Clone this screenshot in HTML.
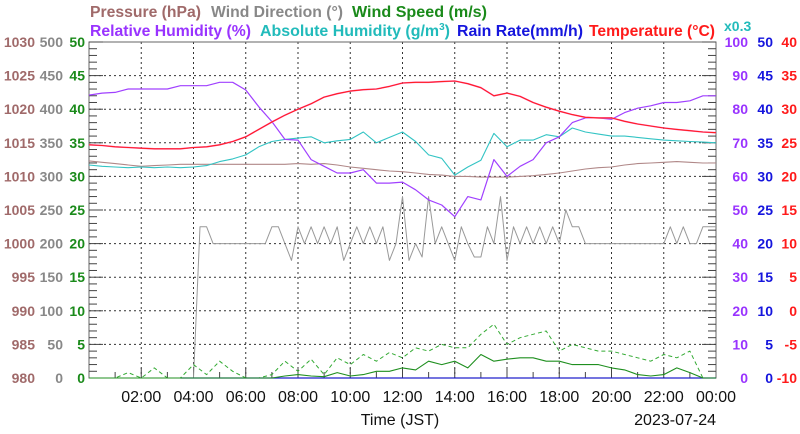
<!DOCTYPE html>
<html><head><meta charset="utf-8"><style>
html,body{margin:0;padding:0;background:#fff;}
svg{display:block;font-family:"Liberation Sans",sans-serif;}
</style></head><body>
<svg id="chart" width="800" height="434" viewBox="0 0 800 434" xmlns="http://www.w3.org/2000/svg">
<g font-size="16" font-weight="bold">
<text x="90" y="17" fill="#a06a6a" textLength="111" lengthAdjust="spacingAndGlyphs">Pressure (hPa)</text>
<text x="211" y="17" fill="#888" textLength="132" lengthAdjust="spacingAndGlyphs">Wind Direction (°)</text>
<text x="352" y="17" fill="#1a8a1a" textLength="135" lengthAdjust="spacingAndGlyphs">Wind Speed (m/s)</text>
</g>
<g font-size="16" font-weight="bold">
<text x="90" y="36" fill="#9933ff" textLength="161" lengthAdjust="spacingAndGlyphs">Relative Humidity (%)</text>
<text x="260" y="36" fill="#22bbbb" textLength="190" lengthAdjust="spacingAndGlyphs">Absolute Humidity (g/m<tspan dy="-6" font-size="10">3</tspan><tspan dy="6">)</tspan></text>
<text x="457" y="36" fill="#1515dd" textLength="126" lengthAdjust="spacingAndGlyphs">Rain Rate(mm/h)</text>
<text x="589" y="36" fill="#ff1a1a" textLength="126" lengthAdjust="spacingAndGlyphs">Temperature (°C)</text>
<text x="724" y="31" fill="#22bbbb" font-size="14">x0.3</text>
</g>
<g id="grid"></g>
<g id="axes"></g>
<g id="series"></g>
<text x="400" y="425" font-size="16" text-anchor="middle" fill="#111">Time (JST)</text>
<text x="716" y="425" font-size="16" text-anchor="end" fill="#111">2023-07-24</text>
</svg>
<script>
const xTickLabels = ["02:00","04:00","06:00","08:00","10:00","12:00","14:00","16:00","18:00","20:00","22:00","00:00"];
const pressureTicks = ["980","985","990","995","1000","1005","1010","1015","1020","1025","1030"];
const windDirTicks = ["0","50","100","150","200","250","300","350","400","450","500"];
const windSpeedTicks = ["0","5","10","15","20","25","30","35","40","45","50"];
const rhTicks = ["0","10","20","30","40","50","60","70","80","90","100"];
const rainTicks = ["0","5","10","15","20","25","30","35","40","45","50"];
const tempTicks = ["-10","-5","0","5","10","15","20","25","30","35","40"];

const temperature = [24.7,24.6,24.4,24.3,24.2,24.1,24.1,24.1,24.3,24.4,24.7,25.2,25.9,27,28.1,29.1,30,30.8,31.8,32.3,32.7,32.9,33,33.4,33.9,34,34,34.1,34.2,33.8,33.2,32,32.4,31.9,31,30.3,29.7,29.2,28.8,28.7,28.7,28.2,27.8,27.5,27.2,27,26.8,26.6,26.5];
const relHumidity = [84.2,84.8,85,86,86,86,86,87,87,87,88,88,85.7,80.7,76.3,71,70.8,65,63,61,61,62,58,58,58.3,56,53,51.5,48,54,53,65,60,63,65,70,71.8,76,77.4,77.4,77,79,80.3,81,82,82,82.5,84,84];
const pressure = [1012.3,1012.1,1011.9,1011.7,1011.5,1011.6,1011.7,1011.8,1011.8,1011.8,1011.8,1011.8,1011.8,1011.8,1011.8,1011.8,1011.9,1011.8,1011.9,1011.7,1011.4,1011.2,1011,1010.8,1010.7,1010.5,1010.3,1010.2,1010,1010,1009.9,1009.9,1009.9,1010,1010.1,1010.3,1010.5,1010.8,1011.1,1011.3,1011.4,1011.7,1011.9,1012,1012.1,1012.2,1012.1,1012,1012];
const absHumidityScaled = [31.7,31.5,31.4,31.3,31.4,31.3,31.4,31.3,31.4,31.6,32.2,32.6,33.2,34.4,35.2,35.5,35.7,35.9,35,35.3,35.5,36.6,35,35.8,36.6,35.2,33.2,32.7,30.2,31.4,32.4,36.4,34.4,35.4,35.4,36.2,35.9,37.2,36.6,36.3,36,36,35.8,35.6,35.4,35.3,35.2,35.1,35];
const windAvg = [0,0,0,0,0,0,0,0,0,0,0,0,0,0,0,0.3,0.5,0.3,0.2,0.8,0.3,0.5,1,1,1.5,1.2,2.5,2,2.5,1.5,3.5,2.5,2.8,3,3,2.5,2.5,2,2,2,1.5,1.2,0.5,0.3,0.5,1.5,0.8,0,0];
const windGust = [0,0,0,0.8,0,1.5,0,0,2,0.5,2.5,1,0,0,0.5,2.5,1,2.8,0.5,3,2,3.5,2.5,3.8,3,4.5,4,5,4.5,4.5,6.5,8,5,6,6.5,7,4,5,4.5,4,4,3.5,3,2.5,3.5,3,4,0,0];
const rainRate = [0,0,0,0,0,0,0,0,0,0,0,0,0,0,0,0,0,0,0,0,0,0,0,0,0,0,0,0,0,0,0,0,0,0,0,0,0,0,0,0,0,0];
const windDir = [0,225,225,200,200,200,200,200,200,200,200,200,225,225,200,175,225,200,225,200,225,200,225,175,200,225,200,225,200,225,175,200,270,175,200,180,270,200,225,200,175,225,200,180,180,225,200,270,175,225,200,225,200,225,200,225,200,250,225,225,200,200,200,200,200,200,200,200,200,200,200,200,200,225,200,225,200,200,225,225,225];

const L=89,R=716,T=42,B=378,NS="http://www.w3.org/2000/svg";
const xs=h=>L+(R-L)*h/24;
const yFrac=f=>B-(B-T)*f;
const yTemp=v=>yFrac((v+10)/50), yRH=v=>yFrac(v/100), yP=v=>yFrac((v-980)/50), y50=v=>yFrac(v/50), yDir=v=>yFrac(v/500);
function el(tag,attrs,parent){const e=document.createElementNS(NS,tag);for(const k in attrs)e.setAttribute(k,attrs[k]);parent.appendChild(e);return e;}
const grid=document.getElementById('grid'),axes=document.getElementById('axes'),series=document.getElementById('series');

for(let i=1;i<10;i++){const y=yFrac(i/10);const g=el('line',{x1:L,x2:R,y1:y,y2:y,stroke:'#333','stroke-width':1,'stroke-dasharray':'2,3'},grid);

}
for(let i=1;i<12;i++){const x=xs(i*2);const g=el('line',{x1:x,x2:x,y1:T,y2:B,stroke:'#333','stroke-width':1,'stroke-dasharray':'2,3'},grid);

}
const frame=el('rect',{x:L,y:T,width:R-L,height:B-T,fill:'none',stroke:'#666','stroke-width':1},axes);


for(let i=0;i<=50;i++){const y=yFrac(i/50);const len=i%5==0?14:8;
el('line',{x1:L,x2:L+len,y1:y,y2:y,stroke:'#444'},axes);el('line',{x1:R-len,x2:R,y1:y,y2:y,stroke:'#444'},axes);}
for(let i=1;i<24;i++){const x=xs(i);el('line',{x1:x,x2:x,y1:B,y2:B-(i%2==0?10:6),stroke:'#444'},axes);}
function yLabels(arr,x,color,name,anchor){arr.forEach((t,i)=>{const tx=el('text',{x:x,y:yFrac(i/10)+5,fill:color,'font-size':14,'font-weight':'bold','text-anchor':anchor},axes);tx.textContent=t;

});}
yLabels(pressureTicks,35,'#a06a6a','pressure-tick-label','end');
yLabels(windDirTicks,63,'#888','wind-direction-tick-label','end');
yLabels(windSpeedTicks,85,'#1a8a1a','wind-speed-tick-label','end');
yLabels(rhTicks,748,'#9933ff','rh-tick-label','end');
yLabels(rainTicks,773,'#1515dd','rain-tick-label','end');
yLabels(tempTicks,797,'#ff1a1a','temperature-tick-label','end');
xTickLabels.forEach((t,i)=>{const tx=el('text',{x:xs((i+1)*2),y:402,'font-size':16,'text-anchor':'middle',fill:'#111'},axes);tx.textContent=t;

});

function line(arr,step,start,yf,color,w,name,dash){const pts=arr.map((v,i)=>xs(start+i*step).toFixed(1)+','+yf(v).toFixed(1)).join(' ');
const p=el('polyline',{points:pts,fill:'none',stroke:color,'stroke-width':w,'stroke-linejoin':'round'},series);if(dash)p.setAttribute('stroke-dasharray',dash);

return p;}
line(windDir,0.25,4.0,yDir,'#999',1,'wind-direction-line');
line(rainRate,0.5,3.5,y50,'#2222cc',1.2,'rain-rate-line');
line(windGust,0.5,0,y50,'#33aa33',1,'wind-gust-line','4,3');
line(windAvg,0.5,0,y50,'#1f8f1f',1.1,'wind-speed-line');
line(pressure,0.5,0,yP,'#b08888',1.1,'pressure-line');
line(absHumidityScaled,0.5,0,y50,'#33c4c4',1.1,'absolute-humidity-line');
line(relHumidity,0.5,0,yRH,'#a040ff',1.2,'relative-humidity-line');
line(temperature,0.5,0,yTemp,'#ff66cc',1.6,'temperature-shadow-line');
line(temperature,0.5,0,yTemp,'#ff2020',1.1,'temperature-line');
</script>
</body></html>
